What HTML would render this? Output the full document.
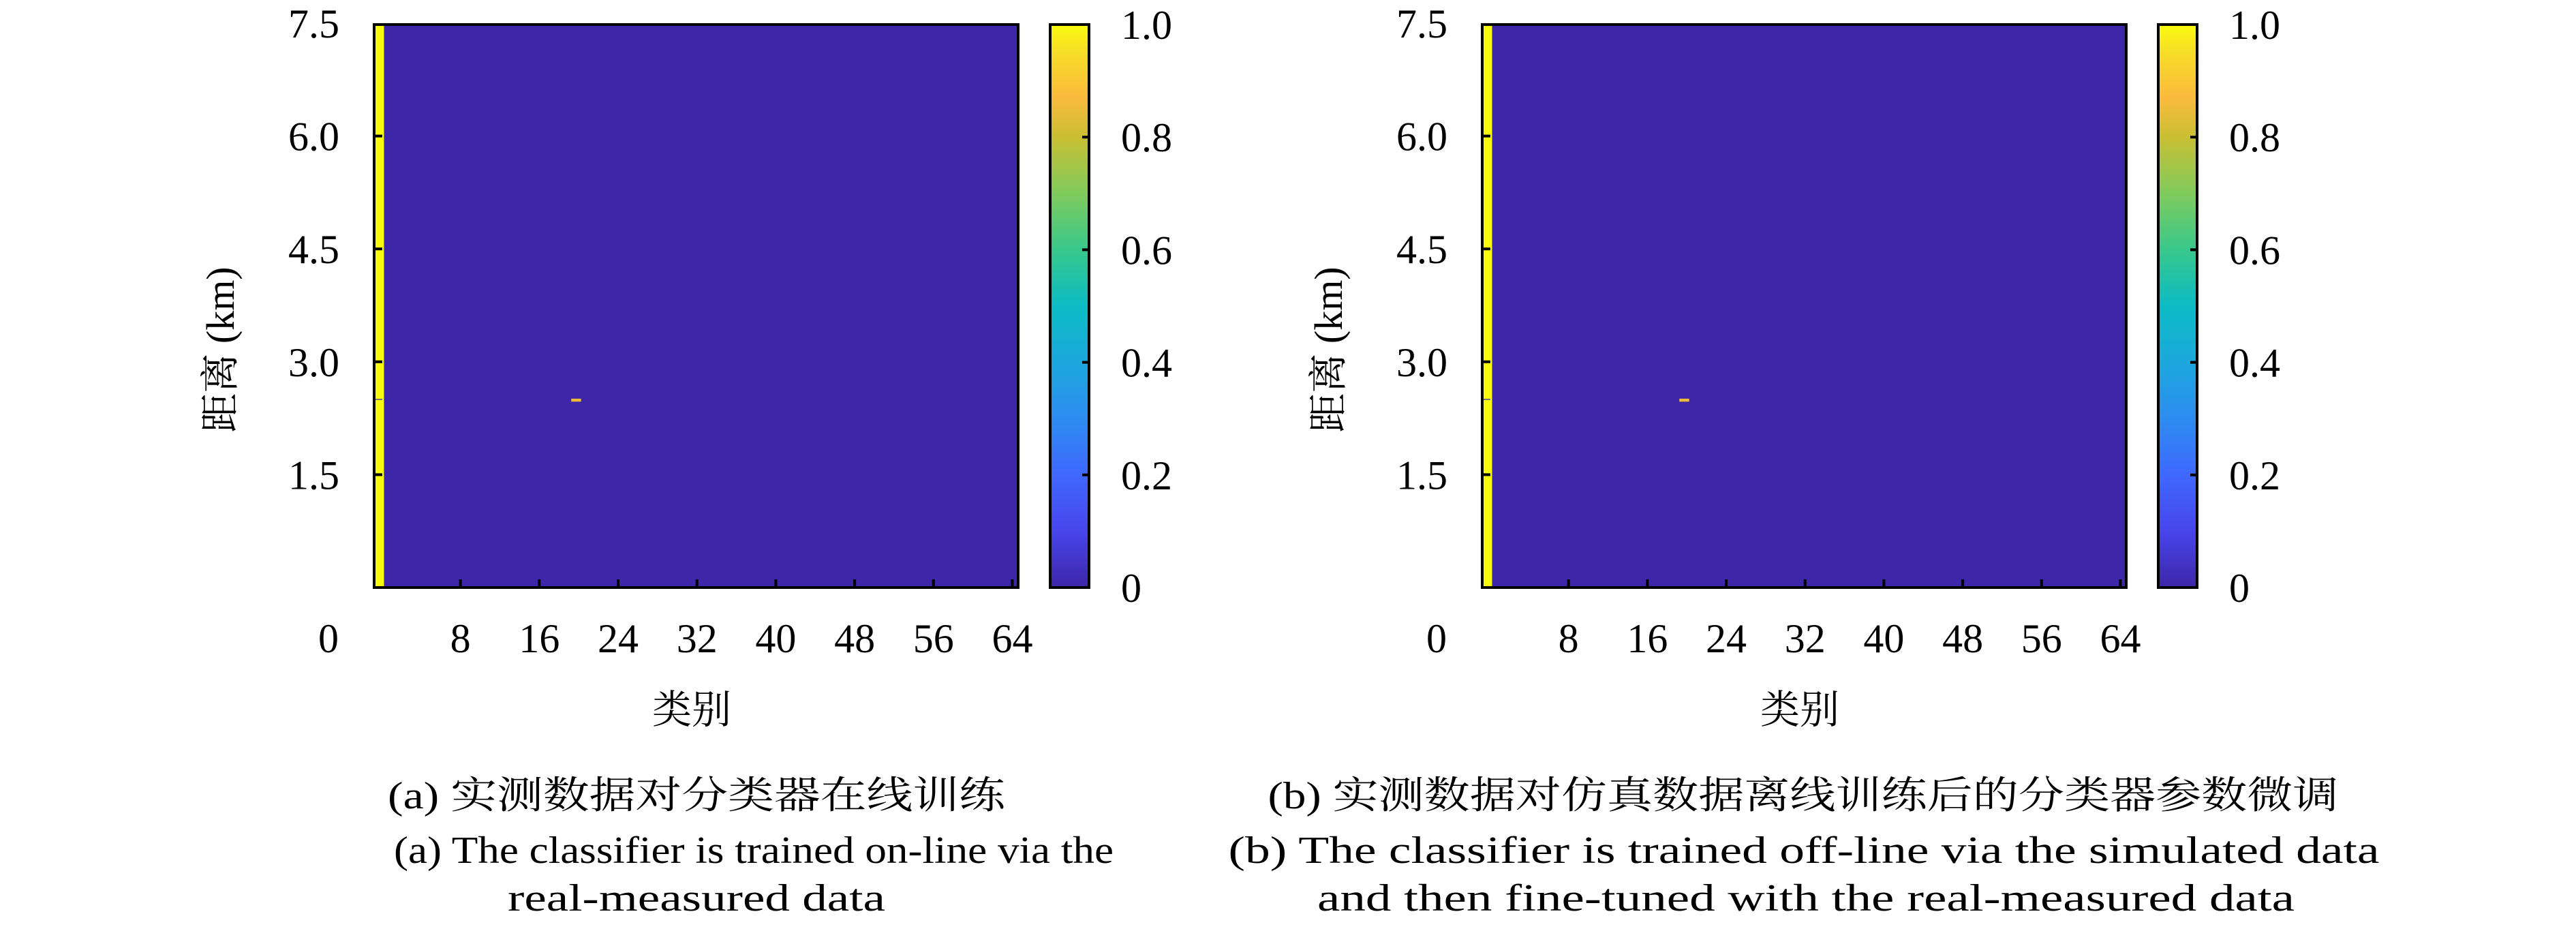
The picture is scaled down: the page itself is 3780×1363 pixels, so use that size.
<!DOCTYPE html>
<html><head><meta charset="utf-8"><style>
html,body{margin:0;padding:0;background:#fff;}
svg{display:block;}
text{font-family:"Liberation Serif","Noto Serif CJK SC",serif;fill:#000;}
</style></head><body>
<svg id="fig" width="3780" height="1363" viewBox="0 0 3780 1363" xmlns="http://www.w3.org/2000/svg">
<defs>
<linearGradient id="parula" x1="0" y1="1" x2="0" y2="0">
<stop offset="0" stop-color="#3e26a8"/><stop offset="0.1" stop-color="#4745ec"/>
<stop offset="0.2" stop-color="#3f68fe"/><stop offset="0.3" stop-color="#2d8cf0"/>
<stop offset="0.4" stop-color="#1ca8dd"/><stop offset="0.5" stop-color="#0cbbc4"/>
<stop offset="0.6" stop-color="#38c88b"/><stop offset="0.7" stop-color="#80cb5c"/>
<stop offset="0.8" stop-color="#c9bf33"/><stop offset="0.87" stop-color="#fbba3d"/>
<stop offset="0.95" stop-color="#f6dd27"/><stop offset="1" stop-color="#f9fb0e"/>
</linearGradient>
</defs>
</svg>
<script>
const categoryTicks = [8,16,24,32,40,48,56,64];
const rangeTicks = [1.5,3.0,4.5,6.0,7.5];
const rangeTickLabels = ["1.5","3.0","4.5","6.0","7.5"];
const colorTicks = [0,0.2,0.4,0.6,0.8,1.0];
const colorTickLabels = ["0","0.2","0.4","0.6","0.8","1.0"];
// heat cells: [class, rangeStart(km), rangeEnd(km), value]
const cellsA = [[0,0,7.5,1.0],[20,2.47,2.51,0.85]];
const cellsB = [[0,0,7.5,1.0],[20,2.47,2.51,0.85]];
const captionsA = ["(a) 实测数据对分类器在线训练","(a) The classifier is trained on-line via the","real-measured data"];
const captionsB = ["(b) 实测数据对仿真数据离线训练后的分类器参数微调","(b) The classifier is trained off-line via the simulated data","and then fine-tuned with the real-measured data"];
const capWidthsA = [906,1056,554];
const capWidthsB = [1571,1689,1434];

const NS="http://www.w3.org/2000/svg";
const svg=document.getElementById('fig');
function mk(tag,attrs,parent,txt){const e=document.createElementNS(NS,tag);for(const k in attrs)e.setAttribute(k,attrs[k]);if(txt!==undefined)e.textContent=txt;(parent||svg).appendChild(e);return e;}
function color(v){
  const st=[[0,[62,38,168]],[0.1,[71,69,236]],[0.2,[63,104,254]],[0.3,[45,140,240]],[0.4,[28,168,221]],[0.5,[12,187,196]],[0.6,[56,200,139]],[0.7,[128,203,92]],[0.8,[201,191,51]],[0.87,[251,186,61]],[0.95,[246,221,39]],[1,[249,251,14]]];
  for(let i=1;i<st.length;i++){if(v<=st[i][0]){const a=st[i-1],b=st[i],t=(v-a[0])/(b[0]-a[0]);return 'rgb('+a[1].map((c,j)=>Math.round(c+(b[1][j]-c)*t)).join(',')+')';}}
  return 'rgb(249,251,14)';
}
function panel(off,cells,caps,capW,tag){
  const L=549+off,R=1494+off,T=36,B=862;
  const xs=v=>560+off+v*14.46;
  const ys=v=>B-v*110.4;
  const g=mk('g',{});  
  const bg=mk('rect',{x:L,y:T,width:R-L,height:B-T,fill:color(0)},g);
   
  cells.forEach(c=>{
    const x0=Math.max(L,xs(c[0]-0.76)), x1=xs(c[0]+0.24);
    const r=mk('rect',{x:x0,y:ys(c[2]),width:x1-x0,height:Math.max(3,ys(c[1])-ys(c[2])),fill:color(c[3])},g);
     
  });
  // small axis tick at 2.5
  mk('line',{x1:L,x2:L+12,y1:ys(2.5),y2:ys(2.5),stroke:'#777','stroke-width':2},g);
  const fr=mk('rect',{x:L,y:T,width:R-L,height:B-T,fill:'none',stroke:'#000','stroke-width':4},g);
   
  rangeTicks.forEach((v,i)=>{
    if(v<7.5) mk('line',{x1:L,x2:L+12,y1:ys(v),y2:ys(v),stroke:'#000','stroke-width':4},g);
    const t=mk('text',{x:498+off,y:ys(v)+21,'font-size':60,'text-anchor':'end'},g,rangeTickLabels[i]);
     
  });
  categoryTicks.forEach(v=>{
    mk('line',{x1:xs(v),x2:xs(v),y1:B,y2:B-12,stroke:'#000','stroke-width':4},g);
    const t=mk('text',{x:xs(v),y:957,'font-size':60,'text-anchor':'middle'},g,String(v));
     
  });
  const z=mk('text',{x:482+off,y:957,'font-size':60,'text-anchor':'middle'},g,'0');
   
  // colorbar
  const cL=1541+off,cR=1598+off;
  const cb=mk('rect',{x:cL,y:T,width:cR-cL,height:B-T,fill:'url(#parula)',stroke:'#000','stroke-width':4},g);
   
  const cs=v=>B-v*(B-T);
  colorTicks.forEach((v,i)=>{
    if(v>0&&v<1) mk('line',{x1:cR-10,x2:cR,y1:cs(v),y2:cs(v),stroke:'#000','stroke-width':4},g);
    const t=mk('text',{x:1645+off,y:cs(v)+21,'font-size':60},g,colorTickLabels[i]);
     
  });
  const yt=mk('text',{x:0,y:0,'font-size':58,'text-anchor':'middle',transform:'translate('+(343+off)+',513) rotate(-90)'},g,'距离 (km)');
   
  const xt=mk('text',{x:1015+off,y:1061,'font-size':58,'text-anchor':'middle'},g,'类别');
   
  const cx=[1022,1106,1022][0];
  const capY=[1186,1266,1336];
  const capX=tag==='a'?[1022,1106,1022]:[2646,2647,2650];
  caps.forEach((s,i)=>{
    const t=mk('text',{x:capX[i],y:capY[i],'font-size':56,'text-anchor':'middle',textLength:capW[i],lengthAdjust:'spacingAndGlyphs'},g,s);
     
  });
}
panel(0,cellsA,captionsA,capWidthsA,'a');
panel(1626,cellsB,captionsB,capWidthsB,'b');
</script>
</body></html>
